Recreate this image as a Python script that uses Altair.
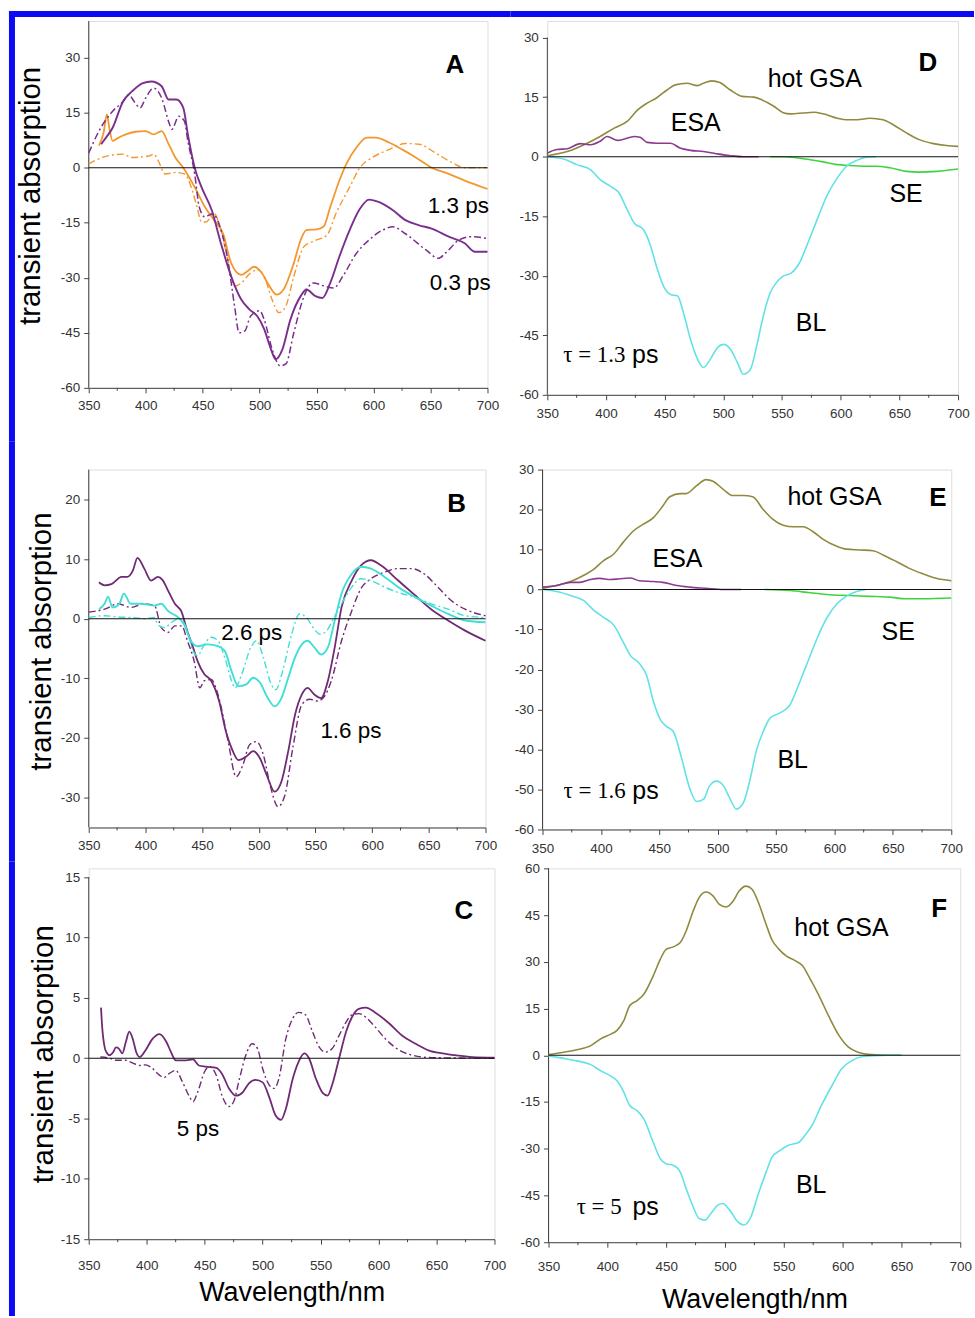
import altair as alt
import pandas as pd

FONT = "Liberation Sans"
SERIF = "Liberation Serif"

# ---------------- axes ----------------
WL_DOMAIN = [350, 700]
WL_TICKS = [350, 400, 450, 500, 550, 600, 650, 700]
WL_MINOR = [375, 425, 475, 525, 575, 625, 675]

YTICKS_A = [-60, -45, -30, -15, 0, 15, 30]
YTICKS_B = [-30, -20, -10, 0, 10, 20]
YTICKS_C = [-15, -10, -5, 0, 5, 10, 15]
YTICKS_D = [-60, -45, -30, -15, 0, 15, 30]
YTICKS_E = [-60, -50, -40, -30, -20, -10, 0, 10, 20, 30]
YTICKS_F = [-60, -45, -30, -15, 0, 15, 30, 45, 60]

# ---------------- data: (wavelength nm, transient absorption) ----------------
A_13_MEAS = [(359, 6.0), (363, 9.5), (366, 14.5), (368, 11.0), (371, 7.3), (375, 8.0), (382, 9.0), (391, 9.8),
             (400, 10.0), (407, 9.1), (414, 10.0), (420, 6.5), (426, 2.8), (433, 0.0), (443, -5.3), (452, -10.7),
             (460, -14.3), (468, -18.0), (475, -26.0), (484, -29.2), (489, -28.3), (495, -27.0), (501, -28.3),
             (507, -31.4), (515, -34.6), (521, -33.2), (530, -26.0), (536, -19.7), (541, -17.0), (550, -16.8),
             (556, -16.1), (562, -10.7), (570, -3.5), (576, 1.0), (585, 5.5), (594, 8.2), (602, 8.2), (614, 6.8),
             (625, 5.0), (637, 2.8), (651, 0.0), (666, -1.7), (680, -3.5), (700, -5.8)]
A_13_CALC = [(350, 1.0), (362, 2.8), (380, 3.7), (388, 2.8), (403, 3.2), (407, 3.7), (411, 1.9), (417, -1.7),
             (426, -1.3), (434, -1.7), (440, -5.3), (445, -10.7), (449, -14.8), (453, -14.8), (460, -12.5),
             (466, -17.0), (472, -25.0), (478, -32.3), (484, -31.4), (492, -28.7), (498, -27.8), (504, -29.6),
             (511, -36.0), (517, -39.5), (523, -37.7), (530, -29.6), (539, -21.5), (550, -19.7), (559, -18.4),
             (567, -12.5), (579, -5.3), (588, 0.0), (599, 2.8), (614, 5.0), (628, 6.6), (640, 6.4), (654, 4.1),
             (669, 1.4), (680, 0.0), (700, 0.0)]
A_03_MEAS = [(361, 6.4), (363, 7.3), (371, 10.9), (380, 18.0), (388, 20.8), (397, 23.0), (405, 23.5), (414, 22.2),
             (420, 18.6), (427, 18.6), (433, 16.3), (437, 9.1), (443, 0.0), (449, -5.3), (458, -11.6), (466, -20.6),
             (475, -29.6), (484, -36.0), (491, -38.6), (498, -40.5), (504, -44.0), (510, -49.5), (514, -52.2),
             (520, -49.5), (527, -41.4), (536, -35.0), (541, -33.2), (549, -35.0), (555, -35.5), (562, -31.4),
             (570, -24.2), (579, -17.0), (588, -11.2), (596, -8.7), (605, -9.4), (617, -11.6), (628, -14.3),
             (640, -15.7), (651, -16.6), (666, -18.8), (680, -20.6), (689, -22.9), (700, -22.9)]
A_03_CALC = [(350, 4.0), (359, 10.0), (371, 15.4), (380, 18.0), (385, 19.9), (390, 18.0), (395, 16.3), (400, 19.0),
             (407, 21.7), (414, 19.0), (421, 11.8), (423, 10.5), (429, 14.0), (434, 12.7), (437, 7.3), (443, -1.7),
             (447, -10.7), (452, -13.4), (459, -12.5), (463, -14.3), (472, -25.0), (478, -37.7), (482, -45.0),
             (487, -44.5), (492, -40.5), (500, -39.0), (504, -41.4), (511, -49.5), (518, -54.0), (523, -53.5),
             (530, -45.0), (539, -35.0), (547, -31.4), (557, -32.3), (565, -32.8), (573, -29.6), (585, -23.3),
             (596, -19.7), (608, -17.0), (617, -16.1), (628, -18.0), (646, -22.4), (657, -24.7), (663, -23.3),
             (675, -19.7), (686, -18.8), (700, -19.3)]

B_16_MEAS = [(359, 6.1), (364, 5.6), (370, 5.8), (379, 7.0), (384, 7.0), (389, 8.1), (393, 10.2), (399, 8.4),
             (405, 6.4), (411, 7.0), (415, 6.5), (420, 4.7), (426, 2.5), (432, 1.1), (436, -1.5), (442, -4.8),
             (446, -7.1), (452, -9.3), (458, -10.4), (465, -13.8), (471, -18.9), (476, -21.7), (482, -23.7),
             (489, -23.1), (495, -22.2), (501, -23.4), (507, -26.2), (514, -29.0), (520, -27.3), (526, -22.2),
             (532, -16.1), (538, -12.7), (543, -11.6), (549, -12.7), (555, -13.3), (561, -10.4), (567, -4.8),
             (573, 1.9), (582, 6.4), (590, 8.9), (599, 9.8), (608, 8.9), (623, 6.4), (638, 3.9), (652, 1.6),
             (667, -0.3), (682, -2.0), (700, -3.7)]
B_16_CALC = [(350, 1.1), (364, 1.6), (376, 2.5), (387, 1.9), (399, 2.5), (408, 2.2), (414, -1.5), (420, -2.3),
             (426, -1.2), (432, -1.2), (437, -3.7), (443, -7.1), (448, -11.6), (452, -10.4), (458, -10.2),
             (464, -12.7), (473, -20.6), (480, -26.5), (486, -24.5), (492, -21.1), (498, -20.6), (504, -22.8),
             (510, -27.9), (517, -31.5), (523, -29.6), (530, -21.7), (538, -14.4), (545, -13.5), (552, -13.8),
             (558, -13.0), (564, -10.4), (573, -3.7), (582, 1.3), (590, 5.0), (599, 6.7), (611, 7.8), (623, 8.4),
             (635, 8.4), (646, 7.5), (658, 5.3), (670, 3.0), (682, 1.6), (700, 0.5)]
B_26_MEAS = [(359, 1.6), (364, 2.5), (367, 3.7), (371, 1.9), (377, 2.5), (381, 4.2), (387, 2.5), (396, 2.5),
             (408, 2.2), (414, 2.5), (420, 1.3), (429, 0.2), (434, -0.9), (440, -3.7), (446, -4.6), (455, -4.3),
             (464, -4.6), (470, -5.4), (476, -8.8), (482, -11.3), (489, -11.0), (495, -9.9), (501, -10.7),
             (508, -13.3), (514, -14.7), (520, -13.3), (526, -9.9), (532, -6.5), (538, -4.3), (543, -3.7),
             (549, -4.8), (555, -6.0), (561, -4.8), (567, -0.3), (573, 4.2), (582, 7.5), (590, 8.7), (599, 8.4),
             (611, 7.0), (623, 5.3), (638, 3.6), (652, 2.2), (667, 0.8), (682, -0.3), (700, -0.6)]
B_26_CALC = [(350, 0.2), (364, 0.5), (376, 0.3), (387, 0.2), (399, 0.0), (408, 0.2), (411, -1.0), (417, -1.5),
             (423, -0.6), (430, 0.0), (436, -1.5), (442, -5.4), (446, -6.2), (452, -4.3), (458, -3.1), (464, -3.7),
             (470, -6.5), (476, -10.4), (479, -11.6), (485, -9.3), (493, -4.8), (498, -3.7), (504, -6.5),
             (511, -11.0), (515, -11.9), (521, -8.8), (529, -2.6), (536, 0.8), (542, 0.2), (548, -1.5), (554, -2.6),
             (560, -2.0), (565, -0.3), (573, 2.5), (582, 5.3), (590, 6.7), (599, 6.4), (611, 5.3), (623, 4.4),
             (638, 3.6), (652, 2.5), (667, 1.6), (682, 0.5), (700, 0.2)]

C_5_MEAS = [(360.6, 4.2), (361.5, 2.7), (362.6, 1.6), (364, 0.8), (366, 0.4), (368, 0.25), (371, 0.5), (373.5, 0.9),
            (376, 0.8), (379, 0.4), (382, 1.35), (385, 2.2), (388, 1.6), (391, 0.5), (394, 0.1), (399, 0.66),
            (405, 1.6), (411, 2.0), (417, 1.35), (421, 0.5), (425, -0.17), (434, -0.17), (440, -0.1), (445, -0.6),
            (451, -0.7), (460, -0.8), (465, -1.3), (471, -2.5), (477, -3.1), (483, -2.8), (488, -2.1), (494, -1.8),
            (500, -2.0), (506, -3.3), (511, -4.7), (516, -5.1), (520, -4.2), (526, -1.7), (531, -0.3), (536, 0.4),
            (540, 0.0), (546, -1.7), (552, -2.9), (556, -3.1), (560, -2.2), (566, 0.0), (572, 2.2), (577, 3.4),
            (583, 4.1), (589, 4.2), (597, 3.8), (609, 2.9), (620, 1.9), (632, 1.2), (643, 0.66), (655, 0.4),
            (666, 0.25), (681, 0.1), (700, 0.05)]
C_5_CALC = [(360, 0.1), (368, 0.0), (373.5, -0.17), (382, -0.17), (388, -0.4), (394, -0.6), (399, -0.55),
            (405, -0.85), (411, -1.4), (415, -1.6), (419, -1.3), (425, -1.0), (431, -2.0), (437, -3.2), (440, -3.6),
            (444, -2.8), (450, -1.1), (454, -0.7), (460, -1.4), (465, -3.1), (471, -4.0), (475, -3.6), (480, -1.7),
            (485.5, 0.25), (491, 1.2), (495.6, 0.8), (500, -0.85), (505.6, -2.2), (510, -2.5), (514, -1.7),
            (520, 1.6), (526, 3.3), (531, 3.8), (537, 3.6), (543, 2.2), (549, 0.9), (554, 0.5), (560, 0.8),
            (566, 1.9), (572, 3.0), (577, 3.6), (583, 3.7), (589, 3.4), (597, 2.6), (606, 1.6), (618, 0.66),
            (629, 0.25), (646, 0.05), (700, 0.0)]

D_GSA = [(350, 0.25), (367, 1.3), (384, 3.4), (395, 5.1), (407, 7.2), (418, 8.9), (427, 11.8), (435, 13.5),
         (443, 14.8), (452, 16.8), (459, 18.1), (469, 18.5), (478, 17.9), (483, 18.5), (490, 19.1), (497, 18.7),
         (506, 16.8), (516, 15.2), (526, 15.0), (533, 14.3), (543, 12.7), (551, 11.1), (557, 10.8), (568, 11.0),
         (577, 11.2), (585, 10.8), (597, 9.7), (605, 9.3), (614, 9.3), (625, 9.7), (636, 9.3), (645, 8.0),
         (656, 6.0), (667, 4.3), (679, 3.3), (690, 2.8), (700, 2.6)]
D_ESA = [(350, 0.9), (358, 1.8), (367, 2.0), (378, 3.3), (387, 3.0), (395, 3.9), (401, 5.1), (410, 4.1),
         (415, 4.4), (424, 5.1), (429, 4.9), (435, 3.6), (443, 3.4), (455, 3.4), (463, 2.2), (472, 1.6),
         (483, 1.3), (494, 0.75), (506, 0.25), (517, 0.0), (530, 0.0)]
D_SE = [(540, 0.0), (551, 0.0), (562, -0.25), (574, -0.75), (585, -1.3), (597, -2.0), (608, -2.2), (619, -2.4),
        (630, -2.4), (642, -2.8), (656, -3.7), (667, -3.9), (682, -3.7), (700, -3.1)]
D_BL = [(350, 0.0), (364, -0.6), (375, -2.0), (387, -3.3), (395, -5.8), (404, -7.5), (411, -9.1), (418, -13.3),
        (424, -16.7), (432, -18.4), (438, -22.5), (443, -27.6), (449, -32.6), (455, -34.7), (461, -35.1),
        (466, -39.3), (472, -46.0), (478, -51.0), (483, -53.1), (489, -51.0), (495, -48.1), (500, -47.3),
        (506, -48.5), (512, -51.9), (517, -54.8), (523, -53.6), (529, -46.9), (534, -40.2), (540, -34.3),
        (545, -31.8), (551, -30.1), (558, -29.3), (565, -26.7), (571, -22.5), (580, -15.8), (588, -10.0),
        (597, -5.4), (605, -2.4), (614, -0.9), (622, -0.1), (630, 0.0)]

E_GSA = [(350, 0.3), (362, 1.0), (374, 2.0), (385, 3.5), (394, 5.1), (402, 7.2), (411, 8.9), (419, 11.8),
         (428, 14.7), (436, 16.3), (445, 18.0), (453, 20.9), (459, 23.2), (468, 24.0), (473, 24.0), (482, 26.0),
         (490, 27.5), (496, 27.1), (505, 25.0), (513, 23.5), (522, 23.5), (530, 23.2), (539, 20.0), (547, 17.6),
         (556, 16.1), (565, 15.7), (573, 15.7), (582, 14.4), (590, 12.6), (602, 10.8), (610, 10.1), (622, 9.9),
         (633, 9.7), (642, 8.6), (653, 7.0), (664, 5.3), (676, 3.9), (687, 2.8), (700, 2.2)]
E_ESA = [(350, 0.6), (362, 1.0), (374, 1.8), (382, 1.8), (391, 2.5), (399, 2.8), (408, 2.5), (416, 2.7),
         (425, 2.9), (433, 2.2), (445, 2.0), (453, 1.8), (465, 1.0), (476, 0.6), (490, 0.3), (505, 0.0), (520, 0.0)]
E_SE = [(540, 0.0), (562, -0.25), (579, -0.8), (596, -1.3), (613, -1.5), (630, -1.7), (647, -1.9), (661, -2.3),
        (676, -2.3), (700, -2.1)]
E_BL = [(350, 0.0), (362, -0.5), (376, -1.7), (385, -2.7), (394, -5.2), (402, -6.9), (411, -8.9), (419, -13.1),
        (425, -16.4), (433, -18.5), (439, -21.4), (445, -28.0), (451, -32.6), (456, -34.2), (462, -35.5),
        (469, -42.1), (476, -49.7), (482, -53.0), (488, -52.4), (493, -49.1), (499, -47.9), (505, -49.1),
        (510, -52.0), (516, -54.9), (522, -53.3), (528, -47.1), (533, -40.4), (539, -35.5), (545, -32.1),
        (553, -30.9), (562, -28.8), (567, -25.5), (576, -18.9), (585, -12.3), (593, -7.3), (602, -3.6),
        (610, -1.7), (619, -0.5), (627, 0.0)]

F_GSA = [(350, 0.2), (363, 1.0), (374, 1.8), (386, 3.1), (394, 5.2), (403, 6.8), (408, 7.9), (414, 11.1),
         (419, 15.9), (425, 17.5), (431, 19.6), (439, 25.5), (445, 30.8), (450, 34.0), (456, 34.8), (462, 36.2),
         (467, 39.9), (473, 46.3), (478, 50.6), (484, 52.4), (490, 51.1), (495, 48.5), (501, 47.6), (507, 49.5),
         (512, 52.7), (518, 54.3), (523, 53.3), (529, 48.5), (535, 42.0), (540, 37.0), (546, 34.0), (552, 31.9),
         (560, 30.3), (566, 28.7), (571, 25.5), (580, 19.1), (588, 12.7), (597, 6.3), (605, 2.6), (613, 1.0),
         (625, 0.2), (639, 0.0), (650, 0.0)]
F_BL = [(350, -0.2), (363, -1.0), (374, -1.8), (386, -3.0), (394, -4.9), (403, -6.7), (408, -8.1), (414, -11.8),
        (419, -16.1), (425, -17.7), (431, -20.4), (439, -27.9), (445, -33.2), (450, -34.8), (456, -35.3),
        (462, -37.5), (467, -42.8), (473, -48.7), (478, -52.4), (483, -52.9), (488, -50.8), (494, -48.1),
        (498, -47.6), (504, -49.7), (511, -53.5), (516, -54.5), (522, -51.9), (528, -44.9), (535, -37.5),
        (540, -32.7), (547, -30.5), (554, -28.9), (563, -27.9), (568, -25.7), (574, -22.5), (582, -16.1),
        (591, -9.7), (599, -4.4), (608, -1.7), (616, -0.5), (627, -0.1), (639, 0.0), (650, 0.0)]

# annotations: (text, wavelength, value, kind)
ANN_A = [("A", 671.3, 28.0, "letter"), ("1.3 ps", 674.4, -10.4, "ps"), ("0.3 ps", 676.1, -31.3, "ps")]
ANN_B = [("B", 674.4, 19.3, "letter"), ("2.6 ps", 493.8, -2.4, "ps"), ("1.6 ps", 581.3, -18.9, "ps")]
ANN_C = [("C", 673.6, 12.2, "letter"), ("5 ps", 444.2, -5.85, "ps")]
ANN_D = [("D", 674.2, 23.7, "letter"), ("hot GSA", 577.9, 19.6, "label"), ("ESA", 476.5, 8.5, "label"),
         ("SE", 655.7, -9.5, "label"), ("BL", 574.7, -41.8, "label")]
ANN_E = [("E", 688.5, 22.9, "letter"), ("hot GSA", 600.0, 23.2, "label"), ("ESA", 465.6, 7.6, "label"),
         ("SE", 654.5, -10.7, "label"), ("BL", 564.2, -42.6, "label")]
ANN_F = [("F", 682.0, 47.1, "letter"), ("hot GSA", 599.0, 40.7, "label"), ("BL", 573.3, -41.5, "label")]
TAU_D = ("τ = 1.3", "ps", 363.6, -50.0)
TAU_E = ("τ = 1.6", "ps", 368.0, -50.4)
TAU_F = ("τ = 5", "ps", 373.9, -48.7)

# ---------------- styles ----------------
ORANGE = "#F4972E"
PURPLE = "#7A2E8E"
PURPLE_DARK = "#702A74"
CYAN = "#3FDFD6"
CYAN_BL = "#62E2E6"
OLIVE = "#8F8A3E"
ESA_COLOR = "#8C3A92"
GREEN = "#3FD43F"
AXIS_COLOR = "#444444"
FRAME_COLOR = "#0A0AF5"
DASHDOT = [7, 3, 2, 3]

TEXT_STYLE = {
    "letter": dict(font=FONT, fontSize=26, fontWeight="bold"),
    "ps": dict(font=FONT, fontSize=22.5),
    "label": dict(font=FONT, fontSize=25),
}

NEG_LABEL = "datum.value < 0 ? '-' + format(-datum.value, 'd') : format(datum.value, 'd')"

# layout (page pixels): plot origin, plot size, x-label padding, frame rectangles
PANELS = {
    "A": dict(origin=(89, 20), size=(400, 368), ydomain=[-60, 40], yline=(-60, 40), yticks=YTICKS_A,
              curves=[(A_13_MEAS, ORANGE, None, 1.8), (A_13_CALC, ORANGE, DASHDOT, 1.4),
                      (A_03_MEAS, PURPLE, None, 1.9), (A_03_CALC, PURPLE, DASHDOT, 1.5)],
              ann=ANN_A, tau=None, ytitle=(-58, 175), xtitle=None, xlabpad=6,
              frame=[((9, 10), (15, 442)), ((9, 10), (512, 16))]),
    "D": dict(origin=(547, 20), size=(412, 375), ydomain=[-60, 34.2], yline=(-60, 30), yticks=YTICKS_D,
              curves=[(D_GSA, OLIVE, None, 1.6), (D_ESA, ESA_COLOR, None, 1.6),
                      (D_SE, GREEN, None, 1.6), (D_BL, CYAN_BL, None, 1.6)],
              ann=ANN_D, tau=(TAU_D, 69), ytitle=None, xtitle=None, xlabpad=7,
              frame=[((510, 10), (975, 16))]),
    "B": dict(origin=(89, 468), size=(398, 359), ydomain=[-35, 25], yline=(-35, 25), yticks=YTICKS_B,
              curves=[(B_16_MEAS, PURPLE_DARK, None, 1.8), (B_16_CALC, PURPLE_DARK, DASHDOT, 1.4),
                      (B_26_MEAS, CYAN, None, 1.9), (B_26_CALC, CYAN, DASHDOT, 1.4)],
              ann=ANN_B, tau=None, ytitle=(-47, 172), xtitle=None, xlabpad=6,
              frame=[((9, 440), (15, 861))]),
    "E": dict(origin=(542, 468), size=(410, 361), ydomain=[-60, 30], yline=(-60, 30), yticks=YTICKS_E,
              curves=[(E_GSA, OLIVE, None, 1.6), (E_ESA, ESA_COLOR, None, 1.6),
                      (E_SE, GREEN, None, 1.6), (E_BL, CYAN_BL, None, 1.6)],
              ann=ANN_E, tau=(TAU_E, 69), ytitle=None, xtitle=None, xlabpad=7, frame=[]),
    "C": dict(origin=(89, 866), size=(407, 372), ydomain=[-15, 15.74], yline=(-15, 15), yticks=YTICKS_C,
              curves=[(C_5_MEAS, PURPLE_DARK, None, 1.8), (C_5_CALC, PURPLE_DARK, DASHDOT, 1.4)],
              ann=ANN_C, tau=None, ytitle=(-45, 186), xtitle=7.5, xlabpad=14,
              frame=[((9, 859), (15, 1315))]),
    "F": dict(origin=(548, 866), size=(413, 375), ydomain=[-60, 60], yline=(-60, 60), yticks=YTICKS_F,
              curves=[(F_GSA, OLIVE, None, 1.6), (F_BL, CYAN_BL, None, 1.6)],
              ann=ANN_F, tau=(TAU_F, 56), ytitle=None, xtitle=13.5, xlabpad=12, frame=[]),
}


def build(p):
    ox, oy = p["origin"]
    w, h = p["size"]
    xaxis = dict(values=WL_TICKS, labelExpr="format(datum.value, 'd')", labelFont=FONT, labelFontSize=13.5,
                 labelColor="#333333", labelPadding=p["xlabpad"], labelFlush=False, labelOverlap=False,
                 tickSize=5, tickColor=AXIS_COLOR, domainColor=AXIS_COLOR, grid=False)
    if p["xtitle"] is not None:
        xaxis.update(title="Wavelength/nm", titleFont=FONT, titleFontSize=27, titleFontWeight="normal",
                     titleColor="black", titlePadding=p["xtitle"])
    else:
        xaxis["title"] = None
    yaxis = dict(values=p["yticks"], labelExpr=NEG_LABEL, labelFont=FONT, labelFontSize=13.5,
                 labelColor="#333333", labelPadding=4, labelFlush=False, labelOverlap=False, tickSize=5,
                 tickColor=AXIS_COLOR, domain=False, grid=False)
    if p["ytitle"] is not None:
        yaxis.update(title="transient absorption", titleFont=FONT, titleFontSize=29.5, titleFontWeight="normal",
                     titleColor="black", titleAngle=270, titleAlign="center", titleBaseline="middle",
                     titleX=p["ytitle"][0], titleY=p["ytitle"][1])
    else:
        yaxis["title"] = None

    x_enc = alt.X("wl:Q", scale=alt.Scale(domain=WL_DOMAIN, nice=False, zero=False), axis=alt.Axis(**xaxis))
    y_enc = alt.Y("v:Q", scale=alt.Scale(domain=p["ydomain"], nice=False, zero=False), axis=alt.Axis(**yaxis))

    layers = []
    # y axis line
    layers.append(alt.Chart(pd.DataFrame({"wl": [350], "v": [p["yline"][0]], "v2": [p["yline"][1]]}))
                  .mark_rule(color=AXIS_COLOR, strokeWidth=1)
                  .encode(x=x_enc, y=y_enc, y2="v2:Q"))
    # minor x ticks
    layers.append(alt.Chart(pd.DataFrame({"wl": WL_MINOR}))
                  .mark_rule(color=AXIS_COLOR, strokeWidth=1)
                  .encode(x=x_enc, y=alt.value(h), y2=alt.value(h + 3)))
    # curves
    for pts, color, dash, sw in p["curves"]:
        df = pd.DataFrame(pts, columns=["wl", "v"])
        mk = dict(color=color, strokeWidth=sw, interpolate="monotone")
        if dash:
            mk["strokeDash"] = dash
        layers.append(alt.Chart(df).mark_line(**mk).encode(x=x_enc, y=y_enc))
    # zero line (on top of the curves)
    layers.append(alt.Chart(pd.DataFrame({"wl": [350], "wl2": [700], "v": [0]}))
                  .mark_rule(color="#111111", strokeWidth=1.1)
                  .encode(x=x_enc, x2="wl2:Q", y=y_enc))
    # annotations
    ann = pd.DataFrame(p["ann"], columns=["t", "wl", "v", "kind"])
    for kind, st in TEXT_STYLE.items():
        sub = ann[ann.kind == kind]
        if len(sub):
            layers.append(alt.Chart(sub).mark_text(align="center", baseline="middle", color="black", **st)
                          .encode(x=x_enc, y=y_enc, text="t:N"))
    if p["tau"] is not None:
        (serif_t, sans_t, twl, tv), dx = p["tau"]
        tdf = pd.DataFrame({"wl": [twl], "v": [tv], "a": [serif_t], "b": [sans_t]})
        layers.append(alt.Chart(tdf).mark_text(align="left", baseline="middle", font=SERIF, fontSize=23,
                                               color="black")
                      .encode(x=x_enc, y=y_enc, text="a:N"))
        layers.append(alt.Chart(tdf).mark_text(align="left", baseline="middle", font=FONT, fontSize=25,
                                               color="black", dx=dx)
                      .encode(x=x_enc, y=y_enc, text="b:N"))
    # page frame (filled rectangles)
    for (x1, y1), (x2, y2) in p["frame"]:
        layers.append(alt.Chart(pd.DataFrame({"k": [0]}))
                      .mark_rect(color=FRAME_COLOR, strokeWidth=0)
                      .encode(x=alt.value(x1 - ox), y=alt.value(y1 - oy),
                              x2=alt.value(x2 - ox), y2=alt.value(y2 - oy)))
    return alt.layer(*layers).properties(width=w, height=h)


row1 = alt.hconcat(build(PANELS["A"]), build(PANELS["D"]), spacing=-2)
row2 = alt.hconcat(build(PANELS["B"]), build(PANELS["E"]), spacing=15.2)
row3 = alt.hconcat(build(PANELS["C"]), build(PANELS["F"]), spacing=12.2)

chart = (alt.vconcat(row1, row2, row3, spacing=-2)
         .properties(padding={"left": 8, "top": 8, "right": 0, "bottom": 0})
         .configure_view(strokeWidth=0)
         .configure(background="white"))

chart.save("out.html", embed_options={"renderer": "svg", "actions": False})
